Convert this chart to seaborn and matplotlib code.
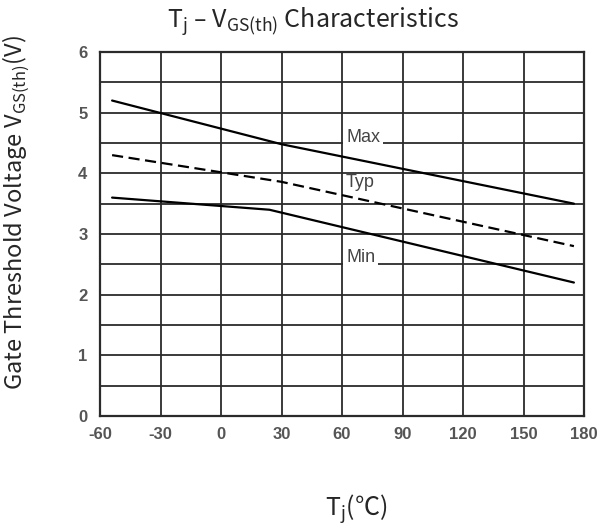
import matplotlib
matplotlib.use("Agg")
import matplotlib.pyplot as plt
from matplotlib.ticker import MultipleLocator
import seaborn as sns

# Curve data
temp_max = [-54, 30, 175]
vgs_max = [5.2, 4.48, 3.5]

temp_typ = [-54, 30, 175]
vgs_typ = [4.3, 3.86, 2.8]

temp_min = [-54, 24, 175]
vgs_min = [3.6, 3.4, 2.2]

x_ticks = [-60, -30, 0, 30, 60, 90, 120, 150, 180]
y_ticks = [0, 1, 2, 3, 4, 5, 6]

sns.set_style("white")
plt.rcParams['font.family'] = ['Noto Sans CJK KR', 'DejaVu Sans']
plt.rcParams['axes.unicode_minus'] = False

fig = plt.figure(figsize=(6.02, 5.28), dpi=100)
ax = fig.add_axes([100 / 602, 112 / 528, 484 / 602, 364 / 528])

grid_col = '#2b2b2b'
ax.set_axisbelow(True)

sns.lineplot(x=temp_max, y=vgs_max, ax=ax, color='black', lw=1.6, zorder=3)
sns.lineplot(x=temp_typ, y=vgs_typ, ax=ax, color='black', lw=1.6,
             linestyle=(0, (5, 2.5)), zorder=3)
sns.lineplot(x=temp_min, y=vgs_min, ax=ax, color='black', lw=1.6, zorder=3)

ax.set_xlim(-60, 180)
ax.set_ylim(0, 6)
ax.set_xticks(x_ticks)
ax.set_yticks(y_ticks)
ax.yaxis.set_minor_locator(MultipleLocator(0.5))
ax.grid(which='major', axis='both', color=grid_col, lw=1.3)
ax.grid(which='minor', axis='y', color=grid_col, lw=1.3)
ax.tick_params(which='both', length=0)
ax.tick_params(axis='y', pad=9)
ax.tick_params(axis='x', pad=8)
for lab in ax.get_xticklabels() + ax.get_yticklabels():
    lab.set_fontfamily('Liberation Sans')
    lab.set_fontweight('bold')
    lab.set_fontsize(12)
    lab.set_color('#555555')
for sp in ax.spines.values():
    sp.set_color(grid_col)
    sp.set_linewidth(1.6)
ax.set_xlabel('')
ax.set_ylabel('')

# curve labels sitting on the grid
box = dict(facecolor='white', edgecolor='none', pad=2)
lab_kw = dict(fontfamily='Liberation Sans', fontsize=13, color='#444444',
              ha='left', va='baseline', zorder=4)
ax.text(62, 4.52, 'Max', bbox=box, **lab_kw)
ax.text(62, 3.78, 'Typ', **lab_kw)
ax.text(62, 2.54, 'Min', bbox=box, **lab_kw)

fig.text(313 / 602, 1 - 27 / 528,
         r'T$_\mathregular{j}$ – V$_\mathregular{GS(th)}$ Characteristics',
         fontsize=18, ha='center', va='baseline')
fig.text(356 / 602, 1 - 515 / 528, r'T$_\mathregular{j}$(℃)',
         fontsize=18, ha='center', va='baseline')
fig.text(23 / 602, 1 - 213 / 528,
         r'Gate Threshold Voltage V$_\mathregular{GS(th)}$(V)',
         fontsize=17, rotation=90, rotation_mode='anchor',
         ha='center', va='baseline')

fig.savefig('out.png', dpi=100)
